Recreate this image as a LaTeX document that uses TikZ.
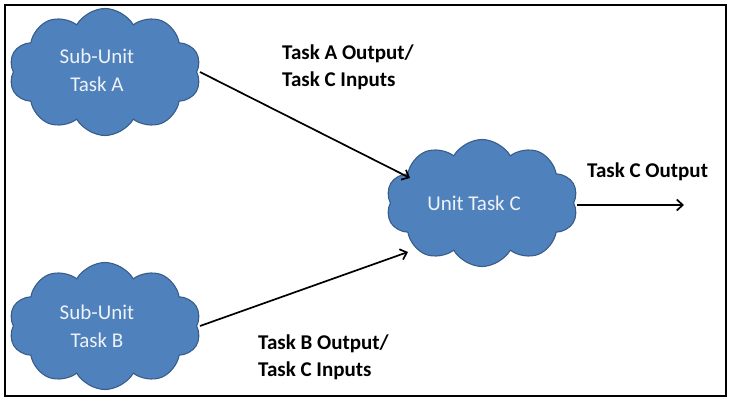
\documentclass[tikz,border=0pt]{standalone}
\usepackage{fontspec}
\setmainfont{Carlito}
\usetikzlibrary{shapes.symbols,arrows.meta}
\definecolor{cloudfill}{HTML}{4F81BD}
\definecolor{clouddraw}{HTML}{385D8A}
\definecolor{cloudtext}{HTML}{EEF2F8}
\tikzset{
  cloudbox/.style={cloud, cloud puffs=10, cloud puff arc=120, aspect=1.5,
    fill=cloudfill, draw=clouddraw, line width=1.1pt, inner sep=0pt,
    minimum width=192pt, minimum height=127pt},
  cloudtxt/.style={text=cloudtext, align=center, inner sep=0pt, font=\fontsize{21}{28}\selectfont},
  lbl/.style={font=\bfseries\fontsize{21}{27}\selectfont, align=left, anchor=north west, inner sep=0pt},
  conn/.style={-{Straight Barb[length=6pt,width=11pt,line width=1.7pt]}, line width=1.7pt, black}
}
\begin{document}
\begin{tikzpicture}[x=1pt,y=-1pt]
\useasboundingbox (0,0) rectangle (732,398);
\draw[line width=2pt] (5,5) rectangle (726,396);
\node[cloudbox] (A) at (105,72) {};
\node[cloudbox] (B) at (105,326) {};
\node[cloudbox] (C) at (482,203) {};
\node[cloudtxt] (tA) at ([xshift=-8pt,yshift=2pt]A.center) {Sub-Unit\\Task A};
\node[cloudtxt] (tB) at ([xshift=-8pt,yshift=0pt]B.center) {Sub-Unit\\Task B};
\node[cloudtxt] (tC) at ([xshift=-8pt]C.center) {Unit Task C};
\coordinate (Aout) at (200,72);
\coordinate (Cin1) at (410,178);
\coordinate (Bout) at (200,326);
\coordinate (Cin2) at (408,252);
\coordinate (Cout) at (577,205);
\coordinate (Cend) at (684,205);
\draw[conn] (Aout) -- (Cin1);
\draw[conn] (Bout) -- (Cin2);
\draw[conn] (Cout) -- (Cend);
\node[lbl] (LA) at (282,45) {Task A Output/\\Task C Inputs};
\node[lbl] (LB) at (258,335) {Task B Output/\\Task C Inputs};
\node[lbl] (LC) at (587,163) {Task C Output};
\end{tikzpicture}
\end{document}
